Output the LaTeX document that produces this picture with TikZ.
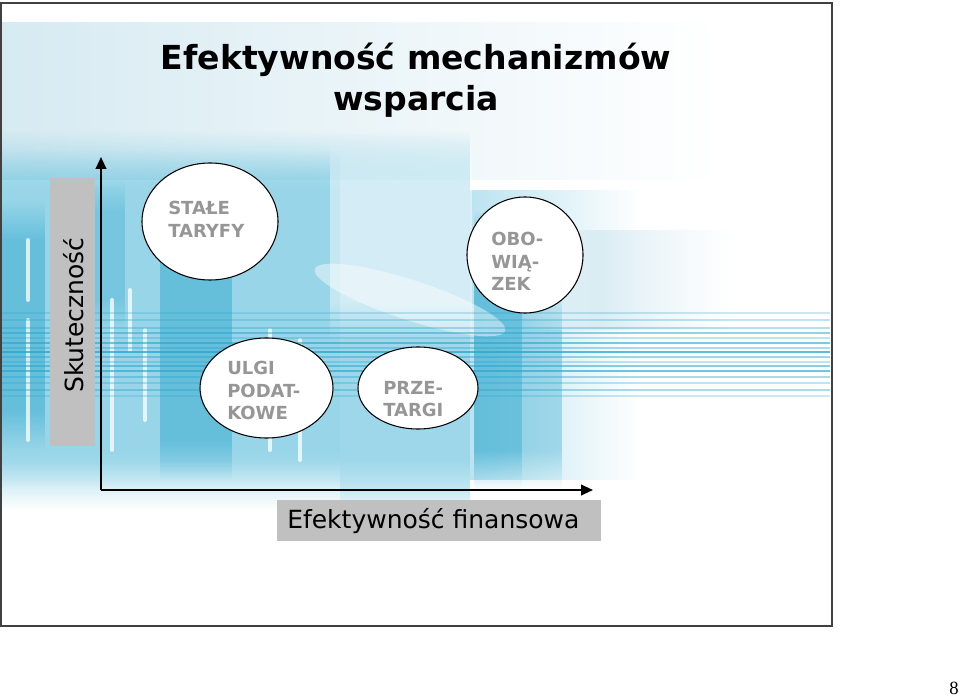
\documentclass[tikz,border=0pt]{standalone}
\usepackage{fontspec}
\setmainfont{DejaVu Sans}
\newfontfamily\pagefont{Liberation Serif}
\usetikzlibrary{shapes.geometric,arrows.meta,fadings}
\definecolor{bgP}{RGB}{210,232,240}
\definecolor{bgM}{RGB}{120,200,225}
\definecolor{bgD}{RGB}{40,165,205}
\definecolor{lab}{RGB}{192,192,192}
\definecolor{txtg}{RGB}{150,150,150}
% soft-edged background block: colour, opacity, x1, y1, x2, y2, fade length
\newcommand\bgblock[7]{%
  \fill[#1, opacity=#2, path fading=north] (#3,#4) rectangle (#5,{#4+#7});
  \fill[#1, opacity=#2] (#3,{#4+#7}) rectangle (#5,{#6-#7});
  \fill[#1, opacity=#2, path fading=south] (#3,{#6-#7}) rectangle (#5,#6);
}
\tikzset{
  bubble/.style={ellipse, draw=black, fill=white, line width=0.8pt, inner sep=0pt},
  btext/.style={font=\bfseries\fontsize{13.5pt}{16.8pt}\selectfont, text=txtg, align=left, anchor=north west, inner sep=0pt},
  axis/.style={line width=1.5pt, -{Triangle[length=9pt,width=8pt]}},
  labbox/.style={fill=lab, inner sep=0pt},
  labtxt/.style={inner sep=0pt, font=\fontsize{18.75pt}{22pt}\selectfont},
  titletxt/.style={font=\bfseries\fontsize{24.8pt}{30pt}\selectfont, anchor=base, inner sep=0pt},
  streak/.style={white, line width=3pt, line cap=round, opacity=0.75}
}
\begin{document}
\begin{tikzpicture}[x=0.75pt,y=-0.75pt]
\useasboundingbox (0,0) rectangle (960,698);
% ---------- background picture (approximation) ----------
\begin{scope}
\clip (2,4) rectangle (831,626);
\fill[bgP, path fading=east, opacity=0.9] (2,22) rectangle (720,180);
\bgblock{bgM}{0.6}{2}{130}{470}{510}{50}
\fill[bgM, opacity=0.5, path fading=east] (470,190) rectangle (640,480);
\bgblock{bgM}{0.4}{2}{150}{340}{490}{40}
\bgblock{bgD}{0.45}{160}{180}{232}{480}{40}
\bgblock{bgD}{0.45}{2}{200}{45}{450}{40}
\bgblock{bgD}{0.3}{60}{180}{125}{330}{30}
\bgblock{bgD}{0.6}{474}{210}{522}{490}{40}
\bgblock{bgD}{0.35}{522}{280}{562}{490}{40}
\bgblock{white}{0.45}{330}{140}{472}{340}{40}
\bgblock{bgM}{0.3}{340}{310}{470}{520}{40}
\fill[white, opacity=0.45, rotate around={-18:(410,300)}] (410,300) ellipse (100 and 20);
\fill[bgP, opacity=0.7, path fading=west] (520,230) rectangle (600,330);
\fill[bgP, opacity=0.7, path fading=east] (600,230) rectangle (730,330);
% vertical white streaks
\foreach \xx/\ya/\yb in {28/240/300, 28/320/440, 88/260/420, 112/300/450, 130/290/350, 145/330/420, 270/330/450, 300/340/460}
  \draw[streak] (\xx,\ya) -- (\xx,\yb);
% horizontal streaks
\foreach \yy/\op in {313/0.25, 320/0.3, 328/0.35, 333/0.5, 338/0.3, 343/0.6, 348/0.4, 352/0.75, 357/0.45, 362/0.3, 366/0.55, 371/0.65, 377/0.4, 383/0.3, 390/0.4, 396/0.25}
  \draw[bgD, line width=1.2pt, opacity=\op] (2,\yy) -- (830,\yy);
\end{scope}
% ---------- slide frame ----------
\draw[black!75, line width=1pt] (1,3) rectangle (832,626);
% ---------- title ----------
\node[titletxt] (title1) at (416,70) {Efektywność mechanizmów};
\node[titletxt] (title2) at (416,111) {wsparcia};
% ---------- axis labels ----------
\node[labbox, minimum width=45*0.75pt, minimum height=268*0.75pt] (ylab) at (72.5,312) {};
\node[labtxt, rotate=90] (ylabtxt) at (74,315) {Skuteczność};
\node[labbox, minimum width=324*0.75pt, minimum height=41*0.75pt] (xlab) at (439,520) {};
\node[labtxt, anchor=base west] (xlabtxt) at (287,528) {Efektywność finansowa};
% ---------- axes ----------
\coordinate (O) at (101,490);
\coordinate (ytip) at (101,157);
\coordinate (xtip) at (593,490);
\draw[axis] (O) -- (ytip);
\draw[axis] (O) -- (xtip);
% ---------- bubbles ----------
\node[bubble, minimum width=136*0.75pt, minimum height=117*0.75pt] (taryfy) at (210,221.5) {};
\node[btext] (taryfyt) at (168,201) {STAŁE\\TARYFY};
\node[bubble, minimum width=116*0.75pt, minimum height=116*0.75pt] (obow) at (525,255) {};
\node[btext] (obowt) at (491,232) {OBO-\\WIĄ-\\ZEK};
\node[bubble, minimum width=133*0.75pt, minimum height=100*0.75pt] (ulgi) at (266.5,388) {};
\node[btext] (ulgit) at (227,361) {ULGI\\PODAT-\\KOWE};
\node[bubble, minimum width=120*0.75pt, minimum height=82*0.75pt] (przet) at (418,388) {};
\node[btext] (przett) at (383,381) {PRZE-\\TARGI};
% ---------- page number ----------
\node[anchor=base east, inner sep=0pt, font=\pagefont\fontsize{14pt}{16pt}\selectfont] (page) at (959,694) {8};
\end{tikzpicture}
\end{document}
